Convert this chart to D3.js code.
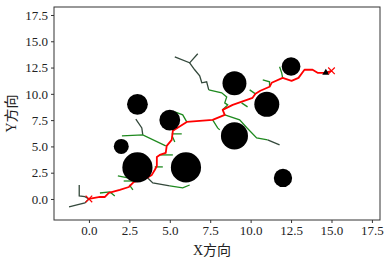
<!DOCTYPE html>
<html>
<head>
<meta charset="utf-8">
<script src="https://cdn.jsdelivr.net/npm/d3@7"></script>
<style>
  body { margin: 0; background: #fff; }
</style>
</head>
<body>
<svg id="chart"></svg>
<script>
// obstacles (centre + radius)
const obsX = [3, 5, 2, 3, 6, 9, 9, 11, 12.5, 12];
const obsY = [9, 7.5, 5, 3, 3, 6, 11, 9, 12.6, 2];
const obsR = [1.0, 1.0, 0.72, 1.45, 1.45, 1.3, 1.15, 1.2, 0.9, 0.88];

// final path (red)
const pathX = [0, 0.68, 0.99, 1.23, 1.91, 2.47, 2.78, 3.15, 3.58, 3.89, 4.07, 4.2, 4.2, 4.38, 4.75, 4.81, 5.12, 5.19, 6.05, 7.65, 8.4, 8.27, 8.89, 10.12, 10.3, 10.6, 11.17, 11.3, 11.98, 12.53, 12.96, 13.33, 13.83, 14.14, 14.63, 15.0];
const pathY = [0, 0.19, 0.19, 0.57, 0.86, 1.14, 1.62, 1.76, 2.0, 2.29, 2.76, 3.14, 4.0, 4.19, 4.38, 5.05, 5.62, 6.48, 7.33, 7.52, 8.0, 8.48, 8.95, 9.62, 10.0, 10.29, 10.67, 11.05, 11.52, 11.24, 11.52, 12.29, 12.29, 12.0, 12.0, 12.19];

// tree branches, dark part
const darkBranches = [
    [[-1.23, -0.76], [-0.74, -0.57], [-0.25, -0.38], [0, 0]],
    [[-0.6, 1.33], [-0.6, 0.29], [-0.25, 0.22], [0, 0]],
    [[5.31, 13.52], [6.23, 12.95], [6.73, 13.81]],
    [[6.23, 12.95], [6.54, 12.29], [6.85, 11.71], [6.98, 11.05], [7.28, 11.14], [7.41, 10.38]],
    [[2.9, 7.6], [3.27, 6.76], [3.33, 6.1]],
    [[3.64, 2.0], [3.95, 1.52], [5.0, 1.24]],
    [[11.05, 5.62], [11.79, 5.14]]
];

// tree branches, green part
const greenBranches = [
    [[7.41, 10.38], [8.21, 10.1], [8.52, 9.71], [8.4, 9.14], [8.58, 8.95], [8.27, 8.48]],
    [[2.04, 6.0], [3.33, 6.1], [4.75, 5.05]],
    [[5.0, 1.24], [5.8, 1.05], [6.23, 1.33]],
    [[8.4, 8.0], [9.32, 7.52], [9.75, 6.8], [10.37, 5.81], [11.05, 5.62]],
    [[0.68, 0.57], [1.3, 0.67], [1.6, 0.29]],
    [[1.79, 2.19], [2.41, 2.0]],
    [[2.15, 1.71], [2.72, 1.71]],
    [[2.5, 1.33], [2.72, 0.86]],
    [[4.07, 3.05], [4.57, 3.05]],
    [[4.38, 4.19], [5.19, 4.19]],
    [[5.12, 6.2], [5.74, 6.19]],
    [[5.15, 6.0], [5.31, 5.43]],
    [[5.31, 8.29], [5.8, 8.0], [6.05, 7.33]],
    [[7.65, 7.52], [7.96, 6.76], [8.09, 6.57]],
    [[9.44, 9.14], [9.81, 8.76]],
    [[9.94, 10.38], [10.3, 10.0]],
    [[10.75, 11.33], [11.17, 11.14], [11.17, 10.67]],
    [[11.79, 12.57], [11.92, 12.0], [11.98, 11.52]]
];

const startPt = [0, 0];
const goalPt = [15.0, 12.19];
const lastNode = [14.65, 12.0];
const ticks = [0, 2.5, 5, 7.5, 10, 12.5, 15, 17.5];

const margin = { top: 7, right: 7, bottom: 40, left: 54 };
const W = 387, H = 260;
const width = W - margin.left - margin.right;
const height = H - margin.top - margin.bottom;
const serif = "'Liberation Serif', 'Times New Roman', 'Noto Sans CJK SC', serif";

const svg = d3.select("#chart").attr("width", W).attr("height", H);
const g = svg.append("g").attr("transform", `translate(${margin.left},${margin.top})`);

const x = d3.scaleLinear().domain([-2.16, 18.0]).range([0, width]);
const y = d3.scaleLinear().domain([-2.0, 18.26]).range([height, 0]);
const rScale = d3.scaleLinear().domain([0, 1]).range([0, 10.4]);

const line = d3.line().x(d => x(d[0])).y(d => y(d[1]));

// axes
const xAxis = g.append("g")
    .attr("transform", `translate(0,${height})`)
    .call(d3.axisBottom(x).tickValues(ticks).tickFormat(d3.format(".1f")).tickSize(3).tickPadding(3));
const yAxis = g.append("g")
    .call(d3.axisLeft(y).tickValues(ticks).tickFormat(d3.format(".1f")).tickSize(3).tickPadding(3));
[xAxis, yAxis].forEach(a => {
    a.attr("font-family", serif).attr("font-size", 13);
    a.select(".domain").remove();
    a.selectAll("line").attr("stroke", "#333");
    a.selectAll("text").attr("fill", "#222");
});

// tree
g.append("g").selectAll("path")
    .data(darkBranches)
    .join("path")
    .attr("d", line)
    .attr("fill", "none")
    .attr("stroke", "#34493c")
    .attr("stroke-width", 1.3);

g.append("g").selectAll("path")
    .data(greenBranches)
    .join("path")
    .attr("d", line)
    .attr("fill", "none")
    .attr("stroke", "#1f8a1f")
    .attr("stroke-width", 1.3);

// path
g.append("path")
    .datum(pathX.map((v, i) => [v, pathY[i]]))
    .attr("d", line)
    .attr("fill", "none")
    .attr("stroke", "#ff0000")
    .attr("stroke-width", 1.8)
    .attr("stroke-linejoin", "round");

// obstacles
g.append("g").selectAll("circle")
    .data(obsX.map((v, i) => ({ x: v, y: obsY[i], r: obsR[i] })))
    .join("circle")
    .attr("cx", d => x(d.x))
    .attr("cy", d => y(d.y))
    .attr("r", d => rScale(d.r))
    .attr("fill", "#000");

// markers
g.append("path")
    .attr("d", d3.symbol(d3.symbolTriangle, 22)())
    .attr("transform", `translate(${x(lastNode[0])},${y(lastNode[1])})`)
    .attr("fill", "#000");

g.selectAll("path.cross")
    .data([startPt, goalPt])
    .join("path")
    .attr("class", "cross")
    .attr("d", d3.symbol(d3.symbolTimes, 30)())
    .attr("transform", d => `translate(${x(d[0])},${y(d[1])})`)
    .attr("fill", "none")
    .attr("stroke", "#ff0000")
    .attr("stroke-width", 1.2);

// frame
g.append("rect")
    .attr("width", width)
    .attr("height", height)
    .attr("fill", "none")
    .attr("stroke", "#333")
    .attr("stroke-width", 1);

// titles
svg.append("text")
    .attr("x", margin.left + width / 2 - 5)
    .attr("y", H - 5)
    .attr("text-anchor", "middle")
    .attr("font-family", serif)
    .attr("font-size", 14)
    .attr("fill", "#222")
    .text("X方向");

svg.append("text")
    .attr("transform", `translate(16,${margin.top + height / 2}) rotate(-90)`)
    .attr("text-anchor", "middle")
    .attr("font-family", serif)
    .attr("font-size", 14)
    .attr("fill", "#222")
    .text("Y方向");
</script>
</body>
</html>
